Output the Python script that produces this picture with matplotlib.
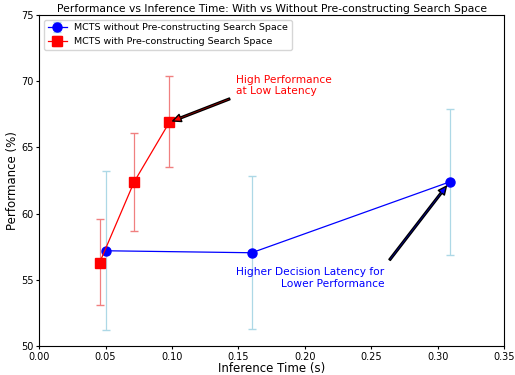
import numpy as np
import matplotlib
matplotlib.use('Agg')
import matplotlib.pyplot as plt

# MCTS without pre-constructing search space
time_without = [0.050, 0.160, 0.309]
perf_without = [57.2, 57.05, 62.4]
err_lo_without = [6.0, 5.75, 5.5]
err_hi_without = [6.05, 5.8, 5.5]

# MCTS with pre-constructing search space
time_with = [0.0455, 0.0715, 0.098]
perf_with = [56.3, 62.4, 66.9]
err_lo_with = [3.2, 3.7, 3.4]
err_hi_with = [3.3, 3.7, 3.5]

fig, ax = plt.subplots(figsize=(5.15, 3.75), dpi=100)
fig.subplots_adjust(left=0.076, right=0.979, top=0.96, bottom=0.077)

ax.errorbar(time_without, perf_without, yerr=[err_lo_without, err_hi_without],
            fmt='-o', color='blue', ecolor='lightblue', capsize=3, linewidth=0.9,
            markersize=6.5, label='MCTS without Pre-constructing Search Space')
ax.errorbar(time_with, perf_with, yerr=[err_lo_with, err_hi_with],
            fmt='-s', color='red', ecolor='lightcoral', capsize=3, linewidth=0.9,
            markersize=6.5, label='MCTS with Pre-constructing Search Space')

# annotations
ax.annotate('High Performance\nat Low Latency', xy=(time_with[2], perf_with[2]),
            xytext=(0.148, 69.0), color='red', fontsize=7.7,
            arrowprops=dict(facecolor='red', edgecolor='black', shrink=0.05,
                            width=1.3, headwidth=5.5, headlength=6))
ax.annotate('Higher Decision Latency for\nLower Performance', xy=(time_without[2], perf_without[2]),
            xytext=(0.2597, 54.5), color='blue', fontsize=7.7, ha='right',
            arrowprops=dict(facecolor='blue', edgecolor='black', shrink=0.05,
                            width=1.3, headwidth=5.5, headlength=6))

ax.set_xlim(0, 0.35)
ax.set_ylim(50, 75)
ax.set_xlabel('Inference Time (s)', fontsize=8.5, labelpad=0)
ax.set_ylabel('Performance (%)', fontsize=8.5, labelpad=1.5)
ax.set_title('Performance vs Inference Time: With vs Without Pre-constructing Search Space',
             fontsize=7.75, pad=2.5)
ax.tick_params(labelsize=7, length=2.5, pad=1.5)
ax.legend(loc='upper left', fontsize=6.8)

plt.savefig('out.png', dpi=100)
